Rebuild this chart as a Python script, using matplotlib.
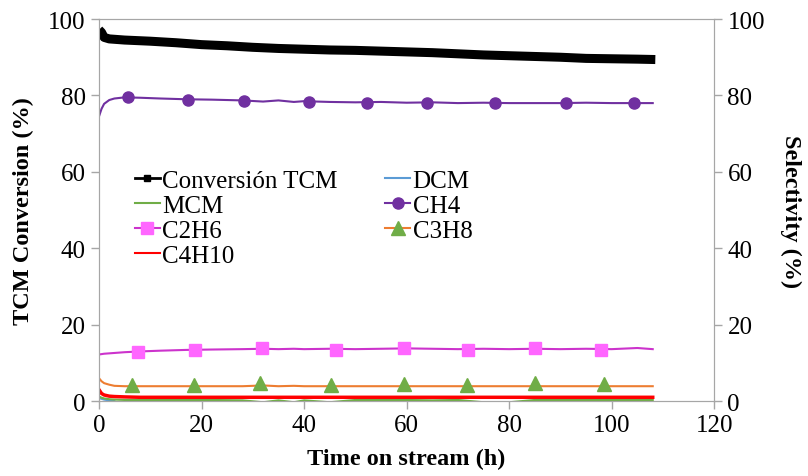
import matplotlib
matplotlib.use("Agg")
import matplotlib.pyplot as plt
from matplotlib.lines import Line2D

plt.rcParams["font.family"] = ["Liberation Serif", "DejaVu Serif"]

# Time on stream (h) and values
t_tcm = [0, 0.5, 1, 2, 5, 10, 15, 20, 25, 30, 35, 40, 45, 50, 55, 60, 65,
         70, 75, 80, 85, 90, 95, 100, 105, 108.5]
tcm = [97.2, 96.5, 95.2, 94.8, 94.5, 94.2, 93.8, 93.3, 93.0, 92.6, 92.3, 92.1,
       91.9, 91.8, 91.6, 91.4, 91.2, 90.9, 90.6, 90.4, 90.2, 90.0, 89.7, 89.6,
       89.5, 89.4]

t_sel = [0, 0.5, 1, 2, 3, 5, 8, 12, 17, 22, 28, 32, 35, 38, 40, 45, 50, 55,
         60, 65, 70, 75, 80, 85, 90, 95, 100, 105, 108]
ch4 = [74.5, 76.5, 77.8, 78.8, 79.2, 79.5, 79.4, 79.2, 79.0, 78.9, 78.7, 78.4,
       78.7, 78.3, 78.5, 78.3, 78.2, 78.3, 78.1, 78.2, 78.0, 78.1, 78.0, 78.0,
       78.0, 78.1, 78.0, 78.0, 78.0]
c2h6 = [12.2, 12.3, 12.4, 12.5, 12.6, 12.8, 13.0, 13.2, 13.4, 13.5, 13.6, 13.7,
        13.6, 13.7, 13.6, 13.7, 13.6, 13.7, 13.8, 13.7, 13.6, 13.7, 13.6, 13.7,
        13.6, 13.7, 13.6, 13.9, 13.6]
c3h8 = [6.0, 5.2, 4.7, 4.3, 4.0, 3.9, 3.9, 3.9, 3.9, 3.9, 3.9, 4.1, 3.9, 4.0,
        3.9, 3.9, 3.9, 3.9, 3.9, 3.9, 3.9, 3.9, 3.9, 3.9, 3.9, 3.9, 3.9, 3.9, 3.9]
c4h10 = [3.0, 2.0, 1.6, 1.3, 1.2, 1.1, 1.0, 1.0, 1.0, 1.0, 1.0, 1.0, 1.0, 1.0,
         1.0, 1.0, 1.0, 1.0, 1.0, 1.0, 1.0, 1.0, 1.0, 1.0, 1.0, 1.0, 1.0, 1.0, 1.0]
mcm = [1.2, 0.9, 0.7, 0.5, 0.4, 0.3, 0.3, 0.3, 0.3, 0.3, 0.2, -0.3, 0.2, -0.3,
       0.2, -0.3, 0.3, 0.3, 0.3, 0.2, 0.3, -0.3, -0.3, 0.3, 0.3, 0.3, 0.3, 0.3, 0.3]
t_dcm = [0, 0.5, 1, 2, 3]
dcm = [0.8, 0.6, 0.4, 0.2, 0.0]

# marker points
t_ch4_mk = [5.6, 17.3, 28.3, 41.0, 52.3, 63.9, 77.3, 91.1, 104.3]
ch4_mk = [79.5, 78.9, 78.6, 78.2, 78.0, 77.9, 77.9, 78.0, 78.0]
t_c2h6_mk = [7.6, 18.8, 31.7, 46.2, 59.4, 72.0, 85.0, 98.0]
c2h6_mk = [12.9, 13.4, 13.9, 13.5, 13.8, 13.5, 13.8, 13.5]
t_c3h8_mk = [6.5, 18.6, 31.5, 45.2, 59.4, 71.8, 85.0, 98.4]
c3h8_mk = [4.2, 4.3, 4.8, 4.2, 4.5, 4.2, 4.8, 4.5]

x_ticks = [0, 20, 40, 60, 80, 100, 120]
y_ticks = [0, 20, 40, 60, 80, 100]

GRAY = "#a6a6a6"
C_DCM = "#5b9bd5"
C_MCM = "#70ad47"
C_CH4 = "#7030a0"
C_C2H6_LINE = "#cc33cc"
C_C2H6_MK = "#ff66ff"
C_C3H8_LINE = "#ed7d31"
C_C3H8_MK = "#70ad47"
C_C4H10 = "#ff0000"

fig = plt.figure(figsize=(8.08, 4.77), dpi=100)
ax = fig.add_axes([0.1225, 0.157, 0.7615, 0.801])
ax2 = ax.twinx()

ax.plot(t_tcm, tcm, color="black", lw=6.5, solid_capstyle="butt", zorder=5)

ax2.plot(t_dcm, dcm, color=C_DCM, lw=1.5)
ax2.plot(t_sel, mcm, color=C_MCM, lw=1.5)
ax2.plot(t_sel, c4h10, color=C_C4H10, lw=2.5)
ax2.plot(t_sel, c3h8, color=C_C3H8_LINE, lw=1.5)
ax2.plot(t_c3h8_mk, c3h8_mk, ls="none", marker="^", ms=10, color=C_C3H8_MK)
ax2.plot(t_sel, c2h6, color=C_C2H6_LINE, lw=1.5)
ax2.plot(t_c2h6_mk, c2h6_mk, ls="none", marker="s", ms=9, color=C_C2H6_MK)
ax2.plot(t_sel, ch4, color=C_CH4, lw=1.5)
ax2.plot(t_ch4_mk, ch4_mk, ls="none", marker="o", ms=8, color=C_CH4)

for a in (ax, ax2):
    a.set_xlim(0, 120)
    a.set_ylim(0, 100)
    a.set_yticks(y_ticks)
    for s in a.spines.values():
        s.set_color(GRAY)
    a.tick_params(colors=GRAY, labelcolor="black", labelsize=18,
                  direction="out", length=6, width=1)
ax.set_xticks(x_ticks)

ax.set_xlabel("Time on stream (h)", fontsize=17.5, fontweight="bold", labelpad=8)
ax.set_ylabel("TCM Conversion (%)", fontsize=17.5, fontweight="bold", labelpad=10)
ax2.set_ylabel("Selectivity (%)", fontsize=17.5, fontweight="bold",
               rotation=270, labelpad=26)

handles = [
    Line2D([], [], color="black", lw=2, marker="s", ms=4),
    Line2D([], [], color=C_DCM, lw=1.5),
    Line2D([], [], color=C_MCM, lw=1.5),
    Line2D([], [], color=C_CH4, lw=1.5, marker="o", ms=8),
    Line2D([], [], color=C_C2H6_LINE, lw=1.5, marker="s", ms=9,
           mfc=C_C2H6_MK, mec=C_C2H6_MK),
    Line2D([], [], color=C_C3H8_LINE, lw=1.5, marker="^", ms=10,
           mfc=C_C3H8_MK, mec=C_C3H8_MK),
    Line2D([], [], color=C_C4H10, lw=1.5),
]
labels = ["Conversión TCM", "DCM", "MCM", "CH4", "C2H6", "C3H8", "C4H10"]
# matplotlib fills legend columns first; reorder to fill rows first
order = [0, 2, 4, 6, 1, 3, 5]
ax2.legend([handles[i] for i in order], [labels[i] for i in order],
           ncol=2, loc="upper left", bbox_to_anchor=(0.058, 0.607),
           frameon=False, fontsize=18, handlelength=1.0, handletextpad=0.1,
           labelspacing=0.1, columnspacing=1.9, borderpad=0, borderaxespad=0)

fig.savefig("out.png", dpi=100)
